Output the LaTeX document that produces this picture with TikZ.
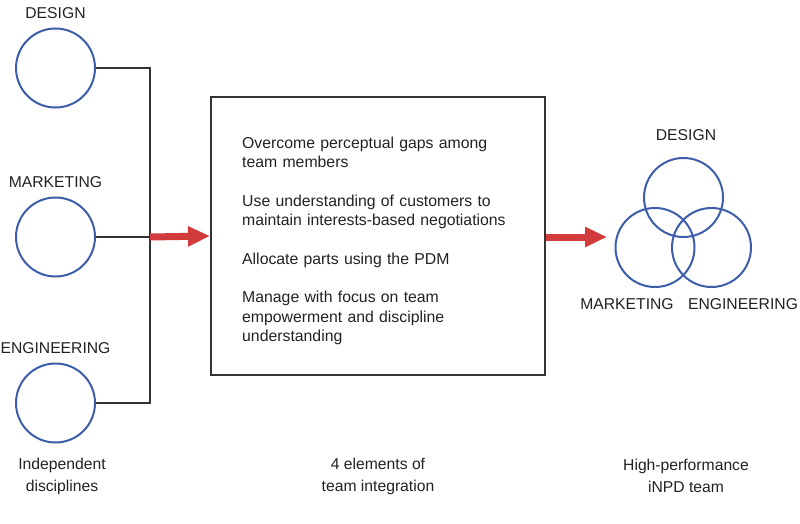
\documentclass[tikz,border=0pt]{standalone}
\usepackage{fontspec}
\setmainfont{Liberation Sans}
\usepackage{xcolor}
\usetikzlibrary{arrows.meta,positioning}
\definecolor{DiscBlue}{HTML}{3C5DAA}
\definecolor{FlowRed}{HTML}{D13B3B}
\definecolor{LineGray}{HTML}{333333}
\definecolor{TextGray}{HTML}{222222}

\begin{document}
\begin{tikzpicture}[
  x=1pt, y=-1pt,
  every node/.style={text=TextGray, font=\fontsize{15.7}{22}\selectfont},
  disc/.style={draw=DiscBlue, line width=2pt, circle, minimum size=79pt, inner sep=0pt},
  lab/.style={inner sep=0pt},
  link/.style={draw=LineGray, line width=2pt, line join=miter},
  flow/.style={draw=FlowRed, line width=7pt, -{Triangle[length=22pt,width=19pt]}},
  box/.style={draw=LineGray, line width=2pt, minimum width=334pt, minimum height=278pt},
  boxtext/.style={text width=272pt, align=left, inner sep=0pt,
    font=\fontsize{15.8}{19.5}\selectfont}
]
  \useasboundingbox (0,0) rectangle (800,524);

  % independent disciplines
  \node[disc] (des) at (55.5,68) {};
  \node[disc] (mkt) at (55.5,237) {};
  \node[disc] (eng) at (55.5,403) {};
  \node[lab, above=9pt of des] (deslab) {DESIGN};
  \node[lab, above=9pt of mkt] (mktlab) {MARKETING};
  \node[lab, above=9pt of eng] (englab) {ENGINEERING};

  \coordinate (jtop) at (150,68);
  \coordinate (jmid) at (150,237);
  \coordinate (jbot) at (150,403);
  \draw[link] (des.east) -- (jtop) -- (jbot) -- (eng.east);
  \draw[link] (mkt.east) -- (jmid);

  % team integration
  \node[box] (elems) at (378,236) {};
  \node[boxtext, anchor=west] (elemtext) at ([xshift=32pt,yshift=-5pt]elems.west)
    {Overcome perceptual gaps among\\team members\\[19pt]
    Use understanding of customers to\\maintain interests-based negotiations\\[19pt]
    Allocate parts using the PDM\\[19pt]
    Manage with focus on team\\empowerment and discipline\\understanding};

  \draw[flow] (jmid) -- (elems.west);

  % iNPD team
  \node[disc] (vdes) at (683.5,197.5) {};
  \node[disc] (vmkt) at (655,247.5) {};
  \node[disc] (veng) at (711.5,247.5) {};
  \node[lab] (vdeslab) at (686,135) {DESIGN};
  \node[lab] (vmktlab) at (627,304) {MARKETING};
  \node[lab] (venglab) at (743,304) {ENGINEERING};

  \coordinate (team) at (607,237);
  \draw[flow] (elems.east |- team) -- (team);

  % captions
  \node[align=center] (cap1) at (62,476) {Independent\\disciplines};
  \node[align=center] (cap2) at (378,476) {4 elements of\\team integration};
  \node[align=center] (cap3) at (686,476) {High-performance\\iNPD team};
\end{tikzpicture}
\end{document}
